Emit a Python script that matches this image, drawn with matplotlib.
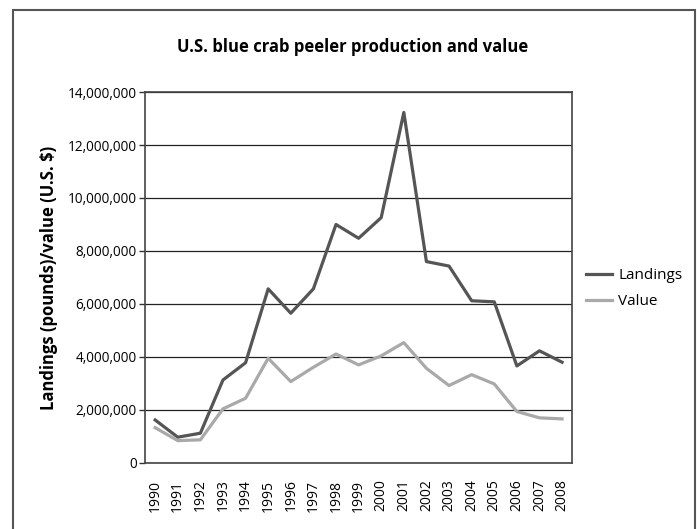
import numpy as np
import matplotlib.pyplot as plt
from matplotlib.patches import Rectangle
from matplotlib.ticker import FuncFormatter

plt.rcParams["font.family"] = ["Open Sans", "DejaVu Sans"]

years = [str(y) for y in range(1990, 2009)]
landings = [1620000, 970000, 1120000, 3130000, 3780000, 6570000, 5650000, 6570000,
            9000000, 8480000, 9260000, 13230000, 7600000, 7430000, 6120000, 6080000,
            3660000, 4230000, 3800000]
value = [1330000, 840000, 870000, 2040000, 2440000, 3950000, 3070000, 3610000,
         4110000, 3700000, 4040000, 4540000, 3570000, 2920000, 3330000, 2980000,
         1940000, 1700000, 1660000]

fig = plt.figure(figsize=(6.97, 5.29), dpi=100)
ax = fig.add_axes([0.208, 0.125, 0.613, 0.701])

x = np.arange(len(years))
ax.plot(x, landings, color="#555555", lw=2.3, label="Landings", zorder=3)
ax.plot(x, value, color="#a9a9a9", lw=2.3, label="Value", zorder=3)

ax.set_xlim(-0.45, len(years) - 0.55)
ax.set_ylim(0, 14000000)
ax.set_yticks(np.arange(0, 14000001, 2000000))
ax.yaxis.set_major_formatter(FuncFormatter(lambda v, p: f"{int(v):,}"))
ax.set_xticks(x)
ax.set_xticklabels(years, rotation=90, fontsize=10)
ax.tick_params(axis="x", length=0, pad=12)
ax.tick_params(axis="y", length=4, width=1, color="#333333", labelsize=9.8, pad=2)
ax.grid(axis="y", color="#222222", lw=0.9)
ax.set_axisbelow(True)
for s in ax.spines.values():
    s.set_color("#444444")
    s.set_linewidth(1.2)

ax.set_ylabel("Landings (pounds)/value (U.S. $)", fontsize=12, fontweight="bold", labelpad=7)
fig.text(0.506, 0.911, "U.S. blue crab peeler production and value",
         ha="center", va="center", fontsize=12, fontweight="bold")

ax.legend(loc="center left", bbox_to_anchor=(1.0, 0.47), frameon=False,
          fontsize=11, handlelength=1.7, handletextpad=0.4, labelspacing=0.75)

fig.patches.append(Rectangle((0.019, -0.02), 0.978, 1.001, transform=fig.transFigure,
                             fill=False, edgecolor="#555555", lw=1.5))

fig.savefig("out.png", dpi=100)
